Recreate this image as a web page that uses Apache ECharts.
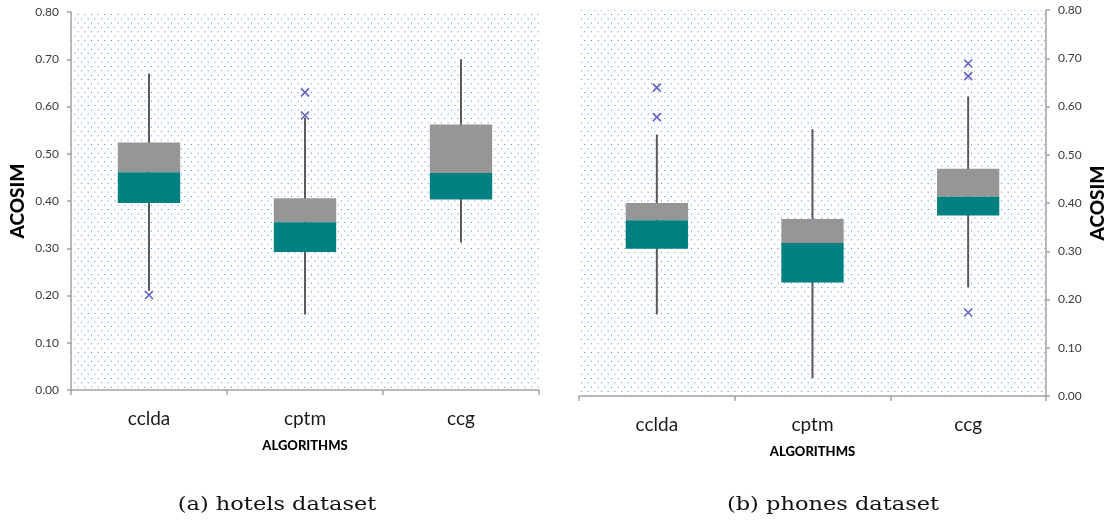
<!DOCTYPE html>
<html>
<head>
<meta charset="utf-8">
<script src="https://cdn.jsdelivr.net/npm/echarts@6/dist/echarts.min.js"></script>
<style>
html,body{margin:0;padding:0;background:#fff;}
#chart{width:1110px;height:522px;}
</style>
</head>
<body>
<div id="chart"></div>
<script>
// ---- data ----
const categories = ['cclda', 'cptm', 'ccg'];
const yTicks = [0, 0.1, 0.2, 0.3, 0.4, 0.5, 0.6, 0.7, 0.8];

// (a) hotels dataset
const hotelsMin    = [0.210, 0.160, 0.312];
const hotelsQ1     = [0.396, 0.292, 0.403];
const hotelsMedian = [0.461, 0.355, 0.459];
const hotelsQ3     = [0.524, 0.406, 0.562];
const hotelsMax    = [0.670, 0.576, 0.700];
const hotelsOutliers = [[0, 0.201], [1, 0.630], [1, 0.581]];

// (b) phones dataset
const phonesMin    = [0.169, 0.037, 0.225];
const phonesQ1     = [0.305, 0.235, 0.374];
const phonesMedian = [0.364, 0.317, 0.413];
const phonesQ3     = [0.400, 0.367, 0.471];
const phonesMax    = [0.542, 0.553, 0.621];
const phonesOutliers = [[0, 0.639], [0, 0.578], [2, 0.689], [2, 0.663], [2, 0.173]];

// ---- helpers ----
function boxRows(mn, q1, md, q3, mx) {
  return categories.map((c, i) => [i, mn[i], q1[i], md[i], q3[i], mx[i]]);
}

function makePattern() {
  const cv = document.createElement('canvas');
  const w = 20, h = 26;
  cv.width = w; cv.height = h;
  const ctx = cv.getContext('2d');
  ctx.fillStyle = '#ffffff';
  ctx.fillRect(0, 0, w, h);
  ctx.fillStyle = '#5186d4';
  const dx = 20 / 3, dy = 26 / 6;
  for (let r = 0; r < 6; r++) {
    const off = (r % 2) ? dx / 2 : 0;
    for (let c = 0; c < 3; c++) {
      ctx.fillRect(1 + off + c * dx, 1 + r * dy, 1, 1);
    }
  }
  return cv;
}
const pattern = { image: makePattern(), repeat: 'repeat' };

function renderBox(params, api) {
  const i = api.value(0);
  const cMin = api.coord([i, api.value(1)]);
  const cQ1 = api.coord([i, api.value(2)]);
  const cMd = api.coord([i, api.value(3)]);
  const cQ3 = api.coord([i, api.value(4)]);
  const cMax = api.coord([i, api.value(5)]);
  const bw = api.size([1, 0])[0] * 0.4;
  const x = cMd[0];
  return {
    type: 'group',
    children: [
      { type: 'line', shape: { x1: x, y1: cMax[1], x2: x, y2: cMin[1] },
        style: { stroke: '#5a5a5a', lineWidth: 2 } },
      { type: 'rect', shape: { x: x - bw / 2, y: cQ3[1], width: bw, height: cMd[1] - cQ3[1] },
        style: { fill: '#969696' } },
      { type: 'rect', shape: { x: x - bw / 2, y: cMd[1], width: bw, height: cQ1[1] - cMd[1] },
        style: { fill: '#008080' } }
    ]
  };
}

function renderCross(params, api) {
  const p = api.coord([api.value(0), api.value(1)]);
  const s = 4;
  const st = { stroke: '#6262c4', lineWidth: 1.6 };
  return {
    type: 'group',
    children: [
      { type: 'line', shape: { x1: p[0] - s, y1: p[1] - s, x2: p[0] + s, y2: p[1] + s }, style: st },
      { type: 'line', shape: { x1: p[0] - s, y1: p[1] + s, x2: p[0] + s, y2: p[1] - s }, style: st }
    ]
  };
}

const axisLineStyle = { color: '#a3a3a3', width: 1.5 };
const tickLabelStyle = { color: '#3a3a3a', fontSize: 12, fontFamily: 'Lato' };

function yAxisCfg(gridIndex, position, nameGap) {
  return {
    type: 'value', gridIndex: gridIndex, position: position,
    min: 0, max: 0.8, interval: 0.1,
    name: 'ACOSIM', nameLocation: 'middle', nameRotate: 90, nameGap: nameGap,
    nameTextStyle: { fontFamily: 'Lato', fontWeight: 900, fontSize: 19, color: '#000' },
    axisLine: { show: true, lineStyle: axisLineStyle },
    axisTick: { show: true, length: 4, lineStyle: axisLineStyle },
    axisLabel: Object.assign({ margin: 12, formatter: v => v.toFixed(2) }, tickLabelStyle),
    splitLine: { show: false }
  };
}

function xAxisCfg(gridIndex) {
  return {
    type: 'category', gridIndex: gridIndex, data: categories, boundaryGap: true,
    name: 'ALGORITHMS', nameLocation: 'middle', nameGap: 49,
    nameTextStyle: { fontFamily: 'Lato', fontWeight: 900, fontSize: 13, color: '#000' },
    axisLine: { show: true, lineStyle: axisLineStyle },
    axisTick: { show: true, length: 5, alignWithLabel: false, lineStyle: axisLineStyle },
    axisLabel: { margin: 19, fontSize: 19, fontFamily: 'Lato', color: '#1a1a1a' },
    splitLine: { show: false }
  };
}

const chart = echarts.init(document.getElementById('chart'), null, { renderer: 'canvas' });
chart.setOption({
  animation: false,
  backgroundColor: '#ffffff',
  grid: [
    { left: 71, top: 12, width: 468, height: 378, show: true, borderWidth: 0, backgroundColor: pattern },
    { left: 579, top: 10, width: 467, height: 386, show: true, borderWidth: 0, backgroundColor: pattern }
  ],
  xAxis: [xAxisCfg(0), xAxisCfg(1)],
  yAxis: [yAxisCfg(0, 'left', 44), yAxisCfg(1, 'right', 42)],
  series: [
    { type: 'custom', xAxisIndex: 0, yAxisIndex: 0, renderItem: renderBox,
      encode: { x: 0, y: [1, 2, 3, 4, 5] },
      data: boxRows(hotelsMin, hotelsQ1, hotelsMedian, hotelsQ3, hotelsMax) },
    { type: 'custom', xAxisIndex: 0, yAxisIndex: 0, renderItem: renderCross,
      encode: { x: 0, y: 1 }, data: hotelsOutliers },
    { type: 'custom', xAxisIndex: 1, yAxisIndex: 1, renderItem: renderBox,
      encode: { x: 0, y: [1, 2, 3, 4, 5] },
      data: boxRows(phonesMin, phonesQ1, phonesMedian, phonesQ3, phonesMax) },
    { type: 'custom', xAxisIndex: 1, yAxisIndex: 1, renderItem: renderCross,
      encode: { x: 0, y: 1 }, data: phonesOutliers }
  ],
  graphic: [
    { type: 'text', x: 277, y: 505, scaleX: 1.25,
      style: { text: '(a) hotels dataset', font: '18px "DejaVu Serif"', fill: '#111',
               textAlign: 'center', textVerticalAlign: 'middle' } },
    { type: 'text', x: 833, y: 505, scaleX: 1.25,
      style: { text: '(b) phones dataset', font: '18px "DejaVu Serif"', fill: '#111',
               textAlign: 'center', textVerticalAlign: 'middle' } }
  ]
});
</script>
</body>
</html>
